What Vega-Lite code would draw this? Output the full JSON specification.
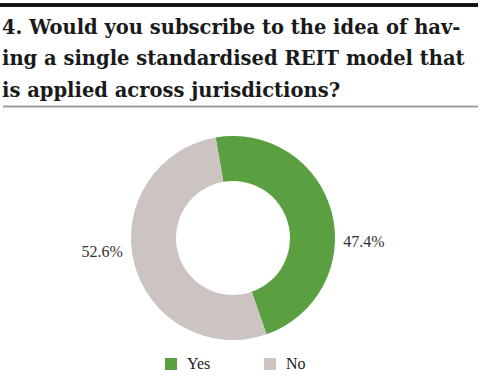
{
  "$schema": "https://vega.github.io/schema/vega-lite/v6.json",
  "width": 460,
  "height": 214,
  "autosize": {"type": "none"},
  "padding": {"left": 3, "right": 17, "top": 131, "bottom": 41},
  "background": "#ffffff",
  "config": {"view": {"stroke": null}},
  "title": {
    "text": ["4. Would you subscribe to the idea of hav-", "ing a single standardised REIT model that", "is applied across jurisdictions?"],
    "anchor": "start",
    "frame": "group",
    "font": "DejaVu Serif",
    "fontSize": 19.5,
    "fontWeight": "bold",
    "lineHeight": 31.5,
    "color": "#1a1a1a",
    "offset": 0,
    "dx": -1,
    "dy": 98
  },
  "data": {"values": [
    {"answer": "Yes", "share": 0.474},
    {"answer": "No", "share": 0.526}
  ]},
  "layer": [
    {
      "mark": {"type": "rule", "color": "#111111", "strokeWidth": 3.5, "clip": false},
      "encoding": {"x": {"value": -3}, "x2": {"value": 475}, "y": {"value": -126}}
    },
    {
      "mark": {"type": "rule", "color": "#9a9a9a", "strokeWidth": 1.5, "clip": false},
      "encoding": {"x": {"value": 0}, "x2": {"value": 475}, "y": {"value": -24.5}}
    },
    {
      "mark": {"type": "arc", "innerRadius": 57, "outerRadius": 102, "stroke": null},
      "encoding": {
        "theta": {"field": "share", "type": "quantitative", "stack": true, "scale": {"range": [-0.171, 6.112]}},
        "order": {"field": "answer", "sort": "descending"},
        "color": {
          "field": "answer",
          "type": "nominal",
          "scale": {"domain": ["Yes", "No"], "range": ["#5a9f40", "#cbc4c1"]},
          "legend": {
            "orient": "none",
            "legendX": 160,
            "legendY": 225,
            "direction": "horizontal",
            "title": null,
            "symbolType": "square",
            "symbolSize": 144,
            "symbolStrokeWidth": 0,
            "labelFont": "Liberation Serif",
            "labelFontSize": 16,
            "labelColor": "#222222",
            "labelOffset": 8,
            "columnPadding": 51
          }
        }
      }
    },
    {
      "mark": {"type": "text", "radius": 131, "font": "Liberation Serif", "fontSize": 16, "color": "#333333", "dy": 9},
      "encoding": {
        "theta": {"field": "share", "type": "quantitative", "stack": true, "scale": {"range": [0.0437, 6.3269]}},
        "order": {"field": "answer", "sort": "descending"},
        "text": {"field": "share", "type": "quantitative", "format": ".1%"}
      }
    }
  ],
  "resolve": {"scale": {"theta": "independent"}}
}
